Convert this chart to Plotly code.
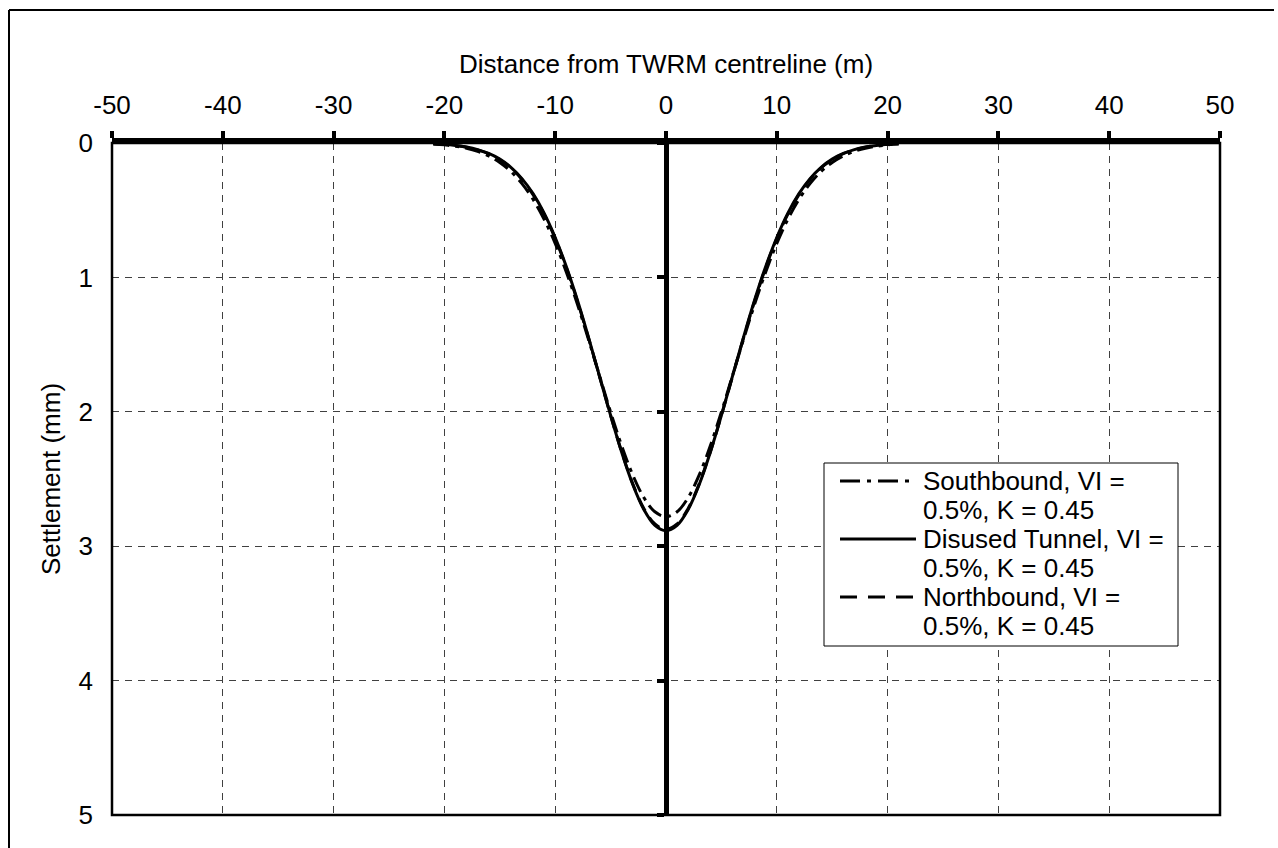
import plotly.graph_objects as go

# distance from TWRM centreline (m)
distance_m = list(range(-21, 22))

southbound_mm = [0.008, 0.014, 0.024, 0.039, 0.062, 0.096, 0.145, 0.212, 0.302, 0.419, 0.567,
                 0.747, 0.959, 1.199, 1.460, 1.732, 2.002, 2.253, 2.470, 2.638, 2.744, 2.780,
                 2.744, 2.638, 2.470, 2.253, 2.002, 1.732, 1.460, 1.199, 0.959, 0.747, 0.567,
                 0.419, 0.302, 0.212, 0.145, 0.096, 0.062, 0.039, 0.024, 0.014, 0.008]
disused_mm = [0.006, 0.010, 0.018, 0.030, 0.049, 0.078, 0.120, 0.181, 0.265, 0.377, 0.522,
              0.703, 0.919, 1.168, 1.444, 1.735, 2.027, 2.301, 2.541, 2.727, 2.845, 2.885,
              2.845, 2.727, 2.541, 2.301, 2.027, 1.735, 1.444, 1.168, 0.919, 0.703, 0.522,
              0.377, 0.265, 0.181, 0.120, 0.078, 0.049, 0.030, 0.018, 0.010, 0.006]
northbound_mm = [0.006, 0.011, 0.018, 0.031, 0.051, 0.080, 0.124, 0.185, 0.271, 0.384, 0.529,
                 0.710, 0.926, 1.175, 1.449, 1.738, 2.027, 2.299, 2.535, 2.719, 2.835, 2.875,
                 2.835, 2.719, 2.535, 2.299, 2.027, 1.738, 1.449, 1.175, 0.926, 0.710, 0.529,
                 0.384, 0.271, 0.185, 0.124, 0.080, 0.051, 0.031, 0.018, 0.011, 0.006]

x_tickvals = [-50, -40, -30, -20, -10, 0, 10, 20, 30, 40, 50]
x_ticktext = ["-50", "-40", "-30", "-20", "-10", "0", "10", "20", "30", "40", "50"]

series_names = ["Southbound, VI =<br>0.5%, K = 0.45",
                "Disused Tunnel, VI =<br>0.5%, K = 0.45",
                "Northbound, VI =<br>0.5%, K = 0.45"]
series_dash = ["16px,6px,4px,6px", "solid", "14px,8px"]
legend_dash = ["20px,7px,4px,7px", "solid", "17px,11px"]

# the page body margin is removed below, so page pixels == figure pixels
W, H = 1278, 848
L, R, T, B = 112, 1220, 143, 815
FONT = "Liberation Sans, Arial, sans-serif"
FS = 26


def px(x):
    return (x - L) / (R - L)


def py(y):
    return (B - y) / (B - T)


fig = go.Figure()
for i, (name, ys) in enumerate(zip(series_names, [southbound_mm, disused_mm, northbound_mm])):
    fig.add_trace(go.Scatter(
        x=distance_m, y=ys, name=name, mode="lines",
        line=dict(color="black", width=3, dash=series_dash[i], shape="spline"),
        showlegend=False,
        yaxis="y2" if i == 2 else "y",
    ))

fig.update_xaxes(
    side="top", range=[-50, 50], tickvals=x_tickvals, ticktext=x_ticktext,
    ticks="outside", ticklen=7, tickwidth=4, tickcolor="black",
    showline=True, linewidth=5, linecolor="black",
    showgrid=True, gridcolor="#404040", gridwidth=1, griddash="7px,6px",
    zeroline=False,
    ticklabelstandoff=7,
    tickfont=dict(size=FS, color="black"),
    title=dict(text="Distance from TWRM centreline (m)", standoff=10,
               font=dict(size=FS, color="black")),
)

fig.update_layout(
    width=W, height=H, autosize=False,
    margin=dict(l=L, r=W - R, t=T, b=H - B),
    paper_bgcolor="white", plot_bgcolor="white",
    font=dict(family=FONT, size=FS, color="black"),
    showlegend=False,
    yaxis=dict(
        range=[5, 0], dtick=1, ticks="", showline=False,
        showgrid=True, gridcolor="#404040", gridwidth=1, griddash="7px,6px",
        zeroline=False, ticklabelstandoff=18,
        tickfont=dict(size=FS, color="black"),
        title=dict(text="Settlement (mm)", standoff=10, font=dict(size=FS, color="black")),
    ),
    yaxis2=dict(
        overlaying="y", anchor="free", position=0.5, side="left",
        range=[5, 0], dtick=1, ticks="outside", ticklen=7, tickwidth=4, tickcolor="black",
        showline=True, linewidth=5, linecolor="black",
        showticklabels=False, showgrid=False, zeroline=False,
    ),
)

# plot area border
fig.add_shape(type="rect", xref="paper", yref="paper", x0=0, x1=1, y0=0, y1=1,
              line=dict(color="black", width=2.5), layer="above")
# outer chart border (only its left and top edges fall inside the picture)
fig.add_shape(type="line", xref="paper", yref="paper",
              x0=px(9), x1=px(9), y0=py(10), y1=py(900),
              line=dict(color="black", width=2), layer="above")
fig.add_shape(type="line", xref="paper", yref="paper",
              x0=px(9), x1=px(1274), y0=py(10), y1=py(10),
              line=dict(color="black", width=2), layer="above")

# legend box
fig.add_shape(type="rect", xref="paper", yref="paper",
              x0=px(824), x1=px(1178), y0=py(646), y1=py(463),
              line=dict(color="black", width=1), fillcolor="white", layer="above")
row_y = [481, 539, 597]
for i, name in enumerate(series_names):
    fig.add_shape(type="line", xref="paper", yref="paper",
                  x0=px(840), x1=px(916), y0=py(row_y[i]), y1=py(row_y[i]),
                  line=dict(color="black", width=3, dash=legend_dash[i]), layer="above")
    for j, part in enumerate(name.split("<br>")):
        fig.add_annotation(xref="paper", yref="paper", x=px(921), y=py(row_y[i] + 29 * j),
                           text=part, showarrow=False, xanchor="left", yanchor="middle",
                           font=dict(size=FS, color="black"))

fig.write_html("out.html", config={"displayModeBar": False}, post_script=(
    "document.body.style.margin='0';"
    "document.body.style.overflow='hidden';"
    "document.documentElement.style.overflow='hidden';"
))
